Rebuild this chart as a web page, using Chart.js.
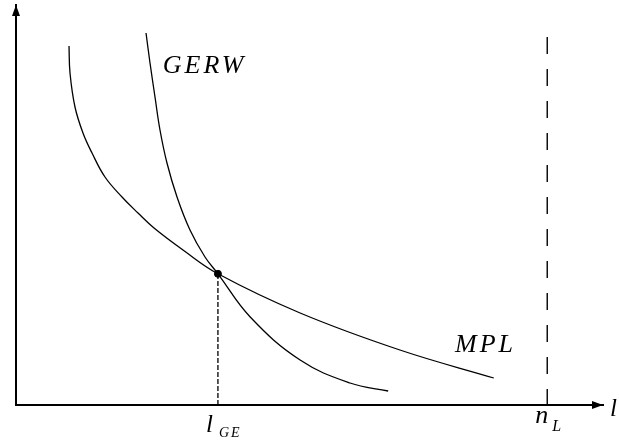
<!DOCTYPE html>
<html>
<head>
<meta charset="utf-8">
<script src="https://cdn.jsdelivr.net/npm/chart.js@4"></script>
<style>
  html, body { margin: 0; padding: 0; background: #fff; }
  #wrap { width: 619px; height: 443px; position: relative; }
</style>
</head>
<body>
<div id="wrap"><canvas id="chart" width="619" height="443"></canvas></div>
<script>
// curve values (x: labour, y: wage units)
const mplX = [0.903, 0.920, 1.005, 1.141, 1.295, 1.516, 1.806, 2.078, 2.351, 2.845, 3.44, 4.84, 6.54, 8.14];
const mplY = [8.975, 8.30, 7.45, 6.80, 6.30, 5.70, 5.20, 4.80, 4.425, 3.875, 3.28, 2.30, 1.375, 0.675];
const gerwX = [2.215, 2.283, 2.368, 2.453, 2.572, 2.743, 2.964, 3.22, 3.44, 3.99, 4.84, 5.69, 6.34];
const gerwY = [9.30, 8.55, 7.70, 6.875, 6.05, 5.20, 4.375, 3.70, 3.28, 2.20, 1.125, 0.55, 0.35];
const equilibrium = { x: 3.44, y: 3.28 };
const laborEndowment = 9.05;
const laborTop = 9.2;

const toPts = (xs, ys) => xs.map((x, i) => ({ x: x, y: ys[i] }));
const serif = '"Liberation Serif", "Times New Roman", serif';

// axis arrows and math labels
const annotations = {
    id: 'annotations',
    afterDraw(chart) {
        const { ctx, chartArea: a, scales: { x, y } } = chart;
        ctx.save();
        ctx.fillStyle = '#000';

        // arrow heads
        ctx.beginPath();
        ctx.moveTo(a.right, a.bottom);
        ctx.lineTo(a.right - 11, a.bottom - 4);
        ctx.lineTo(a.right - 11, a.bottom + 4);
        ctx.closePath();
        ctx.fill();
        ctx.beginPath();
        ctx.moveTo(a.left, a.top);
        ctx.lineTo(a.left - 4, a.top + 11);
        ctx.lineTo(a.left + 4, a.top + 11);
        ctx.closePath();
        ctx.fill();

        ctx.textBaseline = 'alphabetic';
        ctx.textAlign = 'left';

        // curve labels
        ctx.font = 'italic 26px ' + serif;
        ctx.letterSpacing = '3px';
        ctx.fillText('GERW', x.getPixelForValue(2.50), y.getPixelForValue(8.3));
        ctx.fillText('MPL', x.getPixelForValue(7.48), y.getPixelForValue(1.32));

        // x-axis labels
        const xe = x.getPixelForValue(equilibrium.x);
        ctx.letterSpacing = '0px';
        ctx.font = 'italic 25px ' + serif;
        ctx.fillText('l', xe - 12, 432);
        ctx.font = 'italic 14px ' + serif;
        ctx.letterSpacing = '2px';
        ctx.fillText('GE', xe + 1, 437);

        const xn = x.getPixelForValue(laborEndowment);
        ctx.letterSpacing = '0px';
        ctx.font = 'italic 26px ' + serif;
        ctx.fillText('n', xn - 12, 423);
        ctx.font = 'italic 16px ' + serif;
        ctx.fillText('L', xn + 5, 431);

        ctx.font = 'italic 25px ' + serif;
        ctx.fillText('l', a.right + 7, 416);
        ctx.restore();
    }
};

new Chart(document.getElementById('chart'), {
    type: 'scatter',
    data: {
        datasets: [
            {
                label: 'MPL',
                data: toPts(mplX, mplY),
                showLine: true,
                borderColor: '#000',
                borderWidth: 1.3,
                pointRadius: 0,
                tension: 0.4
            },
            {
                label: 'GERW',
                data: toPts(gerwX, gerwY),
                showLine: true,
                borderColor: '#000',
                borderWidth: 1.3,
                pointRadius: 0,
                tension: 0.4
            },
            {
                label: 'lGE',
                data: [{ x: equilibrium.x, y: 0 }, { x: equilibrium.x, y: equilibrium.y }],
                showLine: true,
                borderColor: '#000',
                borderWidth: 1.3,
                borderDash: [5, 2],
                pointRadius: 0
            },
            {
                label: 'nL',
                data: [{ x: laborEndowment, y: laborTop }, { x: laborEndowment, y: 0 }],
                showLine: true,
                borderColor: '#000',
                borderWidth: 1.4,
                borderDash: [17, 15],
                pointRadius: 0
            },
            {
                label: 'equilibrium',
                data: [equilibrium],
                pointRadius: 3.5,
                pointBackgroundColor: '#000',
                pointBorderColor: '#000'
            }
        ]
    },
    options: {
        responsive: false,
        animation: false,
        layout: { padding: { left: 16, right: 16, top: 5, bottom: 38 } },
        plugins: { legend: { display: false }, tooltip: { enabled: false } },
        scales: {
            x: {
                type: 'linear', min: 0, max: 10,
                grid: { display: false, drawTicks: false },
                ticks: { display: false },
                border: { display: true, color: '#000', width: 2 }
            },
            y: {
                type: 'linear', min: 0, max: 10,
                grid: { display: false, drawTicks: false },
                ticks: { display: false },
                border: { display: true, color: '#000', width: 2 }
            }
        }
    },
    plugins: [annotations]
});
</script>
</body>
</html>
